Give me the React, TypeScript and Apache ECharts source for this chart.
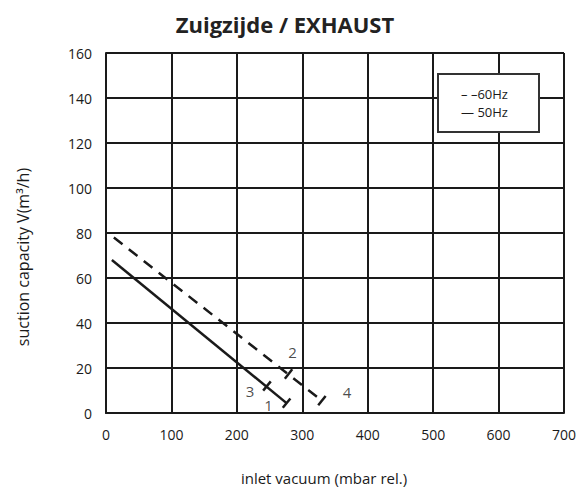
import React, { useEffect, useRef } from "react";
import * as echarts from "echarts";

const xTicks = [0, 100, 200, 300, 400, 500, 600, 700];
const yTicks = [0, 20, 40, 60, 80, 100, 120, 140, 160];

const line50X = [9, 276];
const line50Y = [68, 4.4];
const line60X = [12, 330];
const line60Y = [78, 5.5];

const markX = [276, 246, 279, 330];
const markY = [4.4, 12, 17.3, 5.5];
const markLabels = ["1", "3", "2", "4"];
const markLine = [50, 50, 60, 60];
const labelDX = [-18, -17, 4, 25];
const labelDY = [2, 5, -22, -9];

const FONT = "'Open Sans', 'Noto Sans', sans-serif";
const INK = "#1a1a1a";

export default function App() {
  const ref = useRef<HTMLDivElement>(null);
  useEffect(() => {
    if (!ref.current) return;
    const chart = echarts.init(ref.current, undefined, { renderer: "svg" });
    const markData = markX.map((x, i) => [x, markY[i], i]);
    chart.setOption({
      animation: false,
      backgroundColor: "#ffffff",
      title: {
        text: "Zuigzijde / EXHAUST",
        left: 280,
        textAlign: "center",
        top: 8,
        textStyle: { fontFamily: FONT, fontSize: 22, fontWeight: "bold", color: "#222" },
      },
      grid: { left: 106, right: 21, top: 53, bottom: 76 },
      xAxis: {
        type: "value",
        min: xTicks[0],
        max: xTicks[xTicks.length - 1],
        interval: 100,
        axisLine: { show: true, lineStyle: { color: INK, width: 2 } },
        axisTick: { show: false },
        axisLabel: { fontFamily: FONT, fontSize: 14, color: INK, margin: 14 },
        splitLine: { show: true, lineStyle: { color: INK, width: 2 } },
      },
      yAxis: {
        type: "value",
        min: yTicks[0],
        max: yTicks[yTicks.length - 1],
        interval: 20,
        axisLine: { show: true, lineStyle: { color: INK, width: 2 } },
        axisTick: { show: false },
        axisLabel: { fontFamily: FONT, fontSize: 14, color: INK, margin: 14 },
        splitLine: { show: true, lineStyle: { color: INK, width: 2 } },
      },
      graphic: [
        {
          type: "text",
          x: 324,
          y: 478,
          style: {
            text: "inlet vacuum (mbar rel.)",
            fontFamily: FONT,
            fontSize: 15,
            fill: INK,
            align: "center",
            verticalAlign: "middle",
          },
        },
        {
          type: "text",
          x: 23,
          y: 257,
          rotation: Math.PI / 2,
          style: {
            text: "suction capacity V(m³/h)",
            fontFamily: FONT,
            fontSize: 16,
            fill: INK,
            align: "center",
            verticalAlign: "middle",
          },
        },
        {
          type: "rect",
          left: 437,
          top: 73,
          shape: { width: 101, height: 58 },
          style: { fill: "#fff", stroke: "#333", lineWidth: 2 },
          z: 10,
        },
        {
          type: "text",
          left: 461,
          top: 87,
          style: { text: "– –60Hz", fontFamily: FONT, fontSize: 13, fill: INK },
          z: 11,
        },
        {
          type: "text",
          left: 461,
          top: 105,
          style: { text: "— 50Hz", fontFamily: FONT, fontSize: 13, fill: INK },
          z: 11,
        },
      ],
      series: [
        {
          type: "line",
          name: "50Hz",
          data: line50X.map((x, i) => [x, line50Y[i]]),
          showSymbol: false,
          lineStyle: { color: INK, width: 2.5 },
          z: 5,
        },
        {
          type: "line",
          name: "60Hz",
          data: line60X.map((x, i) => [x, line60Y[i]]),
          showSymbol: false,
          lineStyle: { color: INK, width: 2.5, type: [11, 8] },
          z: 5,
        },
        {
          type: "custom",
          data: markData,
          z: 6,
          renderItem: (params: any, api: any) => {
            const i = api.value(2);
            const p = api.coord([api.value(0), api.value(1)]);
            const lx = markLine[i] === 50 ? line50X : line60X;
            const ly = markLine[i] === 50 ? line50Y : line60Y;
            const a = api.coord([lx[0], ly[0]]);
            const b = api.coord([lx[1], ly[1]]);
            let dx = b[0] - a[0];
            let dy = b[1] - a[1];
            const len = Math.sqrt(dx * dx + dy * dy);
            dx /= len;
            dy /= len;
            const nx = dy;
            const ny = -dx;
            const h = 6;
            return {
              type: "line",
              shape: {
                x1: p[0] - nx * h,
                y1: p[1] - ny * h,
                x2: p[0] + nx * h,
                y2: p[1] + ny * h,
              },
              style: { stroke: INK, lineWidth: 2.5 },
            };
          },
        },
        {
          type: "scatter",
          data: markX.map((x, i) => ({
            value: [x, markY[i]],
            label: { offset: [labelDX[i], labelDY[i]] },
          })),
          symbolSize: 0,
          itemStyle: { color: INK },
          z: 7,
          label: {
            show: true,
            position: "inside",
            formatter: (p: any) => markLabels[p.dataIndex],
            fontFamily: FONT,
            fontSize: 15,
            color: INK,
            textBorderWidth: 0,
            textBorderColor: "transparent",
          },
          emphasis: { disabled: true },
          silent: true,
        },
      ],
    });
    return () => chart.dispose();
  }, []);
  return (
    <div
      ref={ref}
      style={{ position: "fixed", left: 0, top: 0, width: 585, height: 489 }}
    />
  );
}
